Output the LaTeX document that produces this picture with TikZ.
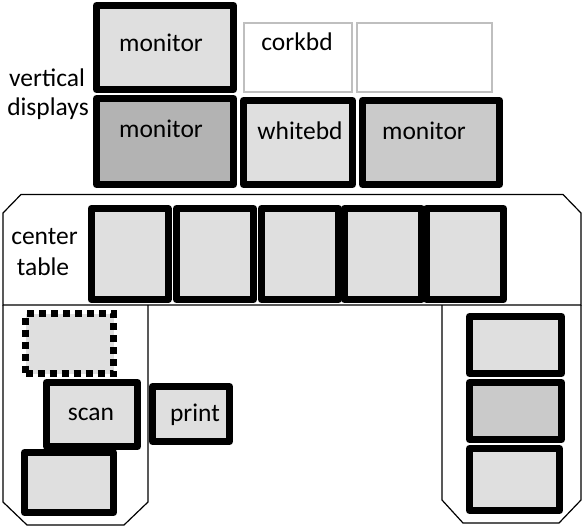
\documentclass[tikz,border=0pt]{standalone}
\usepackage{fontspec}
\setmainfont{Carlito}
\definecolor{lightfill}{HTML}{DFDFDF}
\definecolor{darkfill}{HTML}{B3B3B3}
\definecolor{midfill}{HTML}{CACACA}
\definecolor{wallgray}{HTML}{BFBFBF}
\begin{document}
\begin{tikzpicture}[x=1pt,y=-1pt,
    box/.style={draw=black, line width=7pt, line join=round, fill=lightfill, inner sep=0pt},
    wallbox/.style={draw=wallgray, line width=2pt, inner sep=0pt},
    lbl/.style={anchor=base, inner sep=0pt, font=\fontsize{25.5}{30}\selectfont},
    outline/.style={line width=1.2pt}]
    \useasboundingbox (0,0) rectangle (583,527);
    % table outline and the two wings
    \draw[outline] (21,194.5) -- (563,194.5) -- (581,213) -- (581,305) -- (3,305) -- (3,213) -- cycle;
    \draw[outline] (3,305) -- (3,502) -- (27,525) -- (124,525) -- (148,502) -- (148,305);
    \draw[outline] (442,305) -- (442,500) -- (463,523) -- (559,523) -- (581,500) -- (581,305);
    % vertical displays
    \node[box, minimum width=137pt, minimum height=84pt] (mon1) at (165,47.5) {};
    \node[box, fill=darkfill, minimum width=137pt, minimum height=86pt] (mon2) at (165,141.5) {};
    \node[wallbox, minimum width=108pt, minimum height=69pt] (cork) at (298,57.5) {};
    \node[wallbox, minimum width=135pt, minimum height=69pt] (blank) at (424.5,57.5) {};
    \node[box, minimum width=109pt, minimum height=84pt] (white) at (298,142.5) {};
    \node[box, fill=midfill, minimum width=137pt, minimum height=84pt] (mon3) at (431,142.5) {};
    \node[lbl] (mon1txt) at (161,52) {monitor};
    \node[lbl] (mon2txt) at (161,137) {monitor};
    \node[lbl] (corktxt) at (297,51) {corkbd};
    \node[lbl] (whitetxt) at (300,139) {whitebd};
    \node[lbl] (mon3txt) at (424,139) {monitor};
    \node[lbl] (vert) at (47,86) {vertical};
    \node[lbl] (disp) at (48,115) {displays};
    % center table
    \foreach \cx [count=\i] in {129.5,215,300,383,465}
        \node[box, minimum width=77pt, minimum height=91pt] (tab\i) at (\cx,254) {};
    \node[lbl] (center) at (44.5,244) {center};
    \node[lbl] (table) at (43,275) {table};
    % left wing
    \node[box, dash pattern=on 7pt off 5pt, line join=miter, minimum width=88pt, minimum height=60pt] (spare) at (69.5,343.5) {};
    \node[box, minimum width=91pt, minimum height=64pt] (scan) at (92,414.5) {};
    \node[box, minimum width=77pt, minimum height=55pt] (print) at (191,414) {};
    \node[box, minimum width=89pt, minimum height=60pt] (lowleft) at (69,482.5) {};
    \node[lbl] (scantxt) at (91,420) {scan};
    \node[lbl] (printtxt) at (195,421) {print};
    % right wing
    \node[box, minimum width=92pt, minimum height=57pt] (right1) at (515.5,345) {};
    \node[box, fill=midfill, minimum width=92pt, minimum height=57pt] (right2) at (515.5,411) {};
    \node[box, minimum width=90pt, minimum height=62pt] (right3) at (514.5,479.5) {};
\end{tikzpicture}
\end{document}
